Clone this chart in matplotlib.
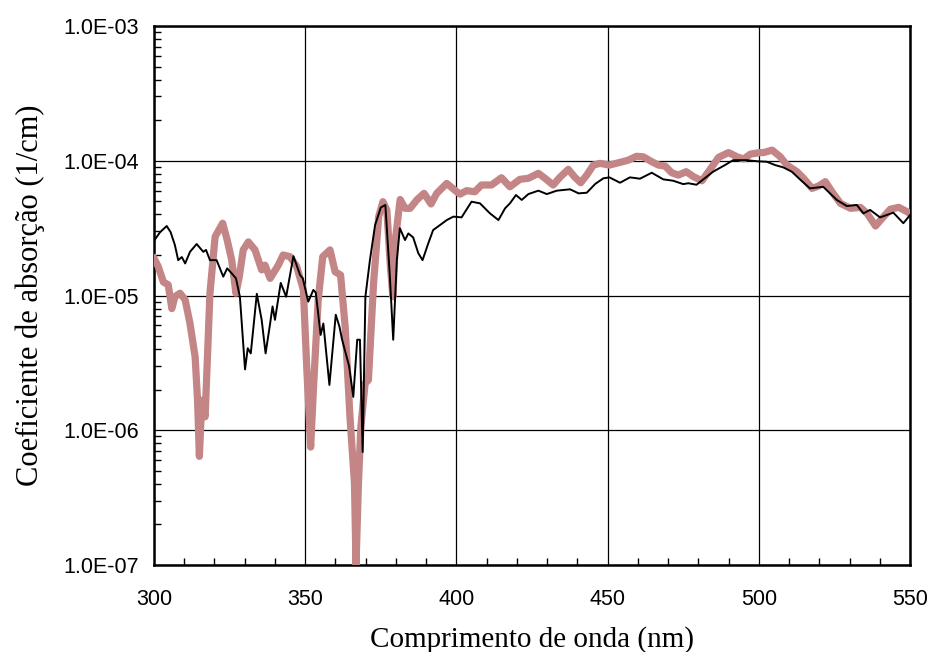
import matplotlib
matplotlib.use("Agg")
import matplotlib.pyplot as plt
from matplotlib.ticker import FixedLocator, FixedFormatter, LogLocator, NullFormatter, MultipleLocator

# Wavelength (nm) and absorption coefficient (1/cm) - thin black series
wl_a = [300.0, 302.0, 304.2, 305.5, 306.9, 308.0, 309.2, 310.3, 311.9, 314.1,
        316.3, 317.2, 318.5, 320.7, 322.9, 324.2, 325.7, 327.1, 328.4, 330.1,
        331.0, 332.0, 334.0, 335.6, 336.9, 338.4, 339.2, 340.0, 341.9, 343.7,
        346.1, 348.3, 349.2, 351.0, 352.7, 353.5, 355.1, 356.0, 358.0, 360.1,
        361.3, 362.2, 364.5, 365.9, 367.2, 368.1, 369.0, 369.9, 371.4, 373.1,
        375.0, 376.5, 378.0, 379.1, 380.3, 381.3, 383.0, 384.1, 385.7, 387.4,
        388.8, 390.7, 392.3, 395.1, 396.8, 399.0, 401.7, 405.0, 407.8, 411.1,
        413.9, 416.1, 417.7, 419.7, 421.6, 423.8, 427.1, 429.9, 433.2, 437.6,
        440.4, 443.1, 445.9, 448.6, 450.6, 454.1, 457.4, 460.7, 464.6, 468.4,
        471.7, 475.0, 476.7, 479.4, 484.9, 488.8, 491.5, 496.0, 499.8, 502.6,
        505.4, 508.1, 510.9, 513.6, 516.9, 521.3, 525.8, 529.1, 532.4, 534.6,
        536.8, 540.1, 544.5, 547.8, 550.0]
alpha_a = [2.55e-5, 2.95e-5, 3.28e-5, 2.95e-5, 2.37e-5, 1.83e-5, 1.93e-5, 1.73e-5, 2.11e-5, 2.41e-5,
           2.11e-5, 2.18e-5, 1.83e-5, 1.83e-5, 1.38e-5, 1.59e-5, 1.46e-5, 1.34e-5, 9.8e-6, 2.83e-6,
           4.06e-6, 3.72e-6, 1.03e-5, 6.6e-6, 3.72e-6, 6.2e-6, 8.3e-6, 6.6e-6, 1.24e-5, 9.8e-6,
           1.96e-5, 1.42e-5, 1.34e-5, 9.0e-6, 1.1e-5, 1.05e-5, 5.1e-6, 6.2e-6, 2.17e-6, 7.2e-6,
           5.9e-6, 4.7e-6, 3.0e-6, 1.77e-6, 4.7e-6, 4.7e-6, 6.9e-7, 9.8e-6, 1.83e-5, 3.33e-5,
           4.5e-5, 4.7e-5, 1.38e-5, 4.7e-6, 1.83e-5, 3.16e-5, 2.58e-5, 2.89e-5, 2.7e-5, 2.06e-5,
           1.83e-5, 2.44e-5, 3.06e-5, 3.4e-5, 3.63e-5, 3.85e-5, 3.8e-5, 4.97e-5, 4.83e-5, 4.07e-5,
           3.63e-5, 4.44e-5, 4.83e-5, 5.57e-5, 5.12e-5, 5.66e-5, 6.0e-5, 5.66e-5, 6.0e-5, 6.14e-5,
           5.73e-5, 5.79e-5, 6.73e-5, 7.41e-5, 7.53e-5, 6.87e-5, 7.53e-5, 7.36e-5, 8.15e-5, 7.28e-5,
           7.11e-5, 6.71e-5, 6.81e-5, 6.64e-5, 8.3e-5, 9.29e-5, 1.01e-4, 1.01e-4, 9.9e-5, 9.84e-5,
           9.29e-5, 8.93e-5, 8.3e-5, 7.28e-5, 6.24e-5, 6.41e-5, 5.12e-5, 4.61e-5, 4.7e-5, 4.07e-5,
           4.32e-5, 3.8e-5, 4.12e-5, 3.44e-5, 3.95e-5]

# Thick rose-coloured series
wl_b = [300.0, 301.4, 303.1, 304.7, 305.9, 306.9, 308.6, 310.3, 311.9, 313.6,
        314.4, 315.0, 315.8, 316.9, 318.5, 320.2, 322.7, 324.2, 325.7, 327.1,
        328.2, 329.5, 331.2, 333.4, 335.6, 336.7, 338.4, 341.1, 342.7, 345.0,
        347.2, 349.4, 350.5, 351.8, 352.7, 354.3, 355.8, 358.2, 359.9, 361.7,
        363.2, 364.8, 366.3, 366.8, 367.6, 368.4, 369.8, 370.9, 372.6, 374.3,
        375.7, 377.0, 378.1, 379.0, 379.8, 381.4, 383.0, 384.7, 386.9, 389.3,
        391.6, 393.5, 396.8, 400.1, 401.2, 403.4, 406.1, 408.3, 411.6, 414.9,
        417.7, 421.0, 423.8, 427.1, 429.3, 432.0, 434.2, 437.0, 439.2, 441.1,
        443.1, 445.3, 447.5, 450.6, 454.1, 456.8, 459.6, 461.8, 464.6, 466.8,
        469.0, 471.2, 473.4, 476.0, 478.4, 481.2, 483.9, 486.7, 490.0, 492.8,
        495.0, 497.2, 500.3, 501.6, 504.4, 507.1, 509.3, 512.6, 514.8, 517.6,
        519.8, 522.0, 524.2, 527.0, 530.3, 533.6, 535.8, 538.6, 540.8, 543.5,
        546.3, 549.6, 550.0]
alpha_b = [1.89e-5, 1.64e-5, 1.26e-5, 1.2e-5, 8.0e-6, 9.8e-6, 1.04e-5, 9.3e-6, 6.2e-6, 3.5e-6,
           1.67e-6, 6.4e-7, 1.67e-6, 1.26e-6, 1.04e-5, 2.73e-5, 3.44e-5, 2.58e-5, 1.83e-5, 1.04e-5,
           1.38e-5, 2.18e-5, 2.5e-5, 2.18e-5, 1.55e-5, 1.68e-5, 1.34e-5, 1.68e-5, 2.0e-5, 1.94e-5,
           1.64e-5, 1.1e-5, 2.96e-6, 7.5e-7, 1.99e-6, 9.3e-6, 1.94e-5, 2.18e-5, 1.5e-5, 1.42e-5,
           5.9e-6, 1.26e-6, 4.0e-7, 1.0e-7, 4.0e-7, 1.06e-6, 2.23e-6, 2.36e-6, 1.23e-5, 3.85e-5,
           4.97e-5, 4.3e-5, 1.73e-5, 9.8e-6, 2.58e-5, 5.16e-5, 4.44e-5, 4.44e-5, 5.12e-5, 5.73e-5,
           4.78e-5, 5.73e-5, 6.79e-5, 5.89e-5, 5.66e-5, 6.0e-5, 5.89e-5, 6.61e-5, 6.61e-5, 7.48e-5,
           6.41e-5, 7.28e-5, 7.41e-5, 8.07e-5, 7.41e-5, 6.61e-5, 7.53e-5, 8.63e-5, 7.53e-5, 6.87e-5,
           7.83e-5, 9.29e-5, 9.57e-5, 9.29e-5, 9.73e-5, 1.01e-4, 1.08e-4, 1.07e-4, 9.84e-5, 9.29e-5,
           9.14e-5, 8.15e-5, 7.83e-5, 8.3e-5, 7.62e-5, 7.11e-5, 8.63e-5, 1.06e-4, 1.15e-4, 1.07e-4,
           1.03e-4, 1.12e-4, 1.15e-4, 1.15e-4, 1.2e-4, 1.07e-4, 9.29e-5, 8.3e-5, 7.41e-5, 6.24e-5,
           6.5e-5, 7.0e-5, 5.89e-5, 4.83e-5, 4.44e-5, 4.51e-5, 4.07e-5, 3.28e-5, 3.74e-5, 4.37e-5,
           4.51e-5, 4.12e-5, 4.07e-5]

x_ticks = [300, 350, 400, 450, 500, 550]
y_ticks = [1e-7, 1e-6, 1e-5, 1e-4, 1e-3]
y_tick_labels = ["1.0E-07", "1.0E-06", "1.0E-05", "1.0E-04", "1.0E-03"]

fig = plt.figure(figsize=(9.3, 6.52), dpi=100)
ax = fig.add_axes([0.1656, 0.1334, 0.8129, 0.8267])

ax.set_yscale("log")
ax.set_xlim(300, 550)
ax.set_ylim(1e-7, 1e-3)

ax.plot(wl_b, alpha_b, color="#c38585", lw=5.2, solid_joinstyle="round", zorder=3)
ax.plot(wl_a, alpha_a, color="black", lw=1.4, zorder=4)

ax.grid(True, which="major", color="black", lw=0.9, zorder=1)
ax.set_axisbelow(True)

ax.xaxis.set_major_locator(FixedLocator(x_ticks))
ax.xaxis.set_minor_locator(MultipleLocator(10))
ax.yaxis.set_major_locator(FixedLocator(y_ticks))
ax.yaxis.set_major_formatter(FixedFormatter(y_tick_labels))
ax.yaxis.set_minor_locator(LogLocator(base=10, subs=range(2, 10)))
ax.yaxis.set_minor_formatter(NullFormatter())

ax.tick_params(axis="both", which="major", labelsize=15.5, labelfontfamily="Liberation Sans")
ax.tick_params(axis="x", which="major", direction="in", length=0, pad=17, top=False)
ax.tick_params(axis="x", which="minor", direction="in", length=5, width=1, top=False)
ax.tick_params(axis="y", which="major", direction="in", length=0, pad=11, right=False)
ax.tick_params(axis="y", which="minor", direction="in", length=5, width=1, right=False)

for s in ax.spines.values():
    s.set_linewidth(1.8)
    s.set_color("black")

ax.set_xlabel("Comprimento de onda (nm)", family=["Liberation Serif", "DejaVu Serif"], size=21, labelpad=12)
ax.set_ylabel("Coeficiente de absorção (1/cm)", family=["Liberation Serif", "DejaVu Serif"], size=22, labelpad=13)

fig.savefig("out.png", dpi=100)
